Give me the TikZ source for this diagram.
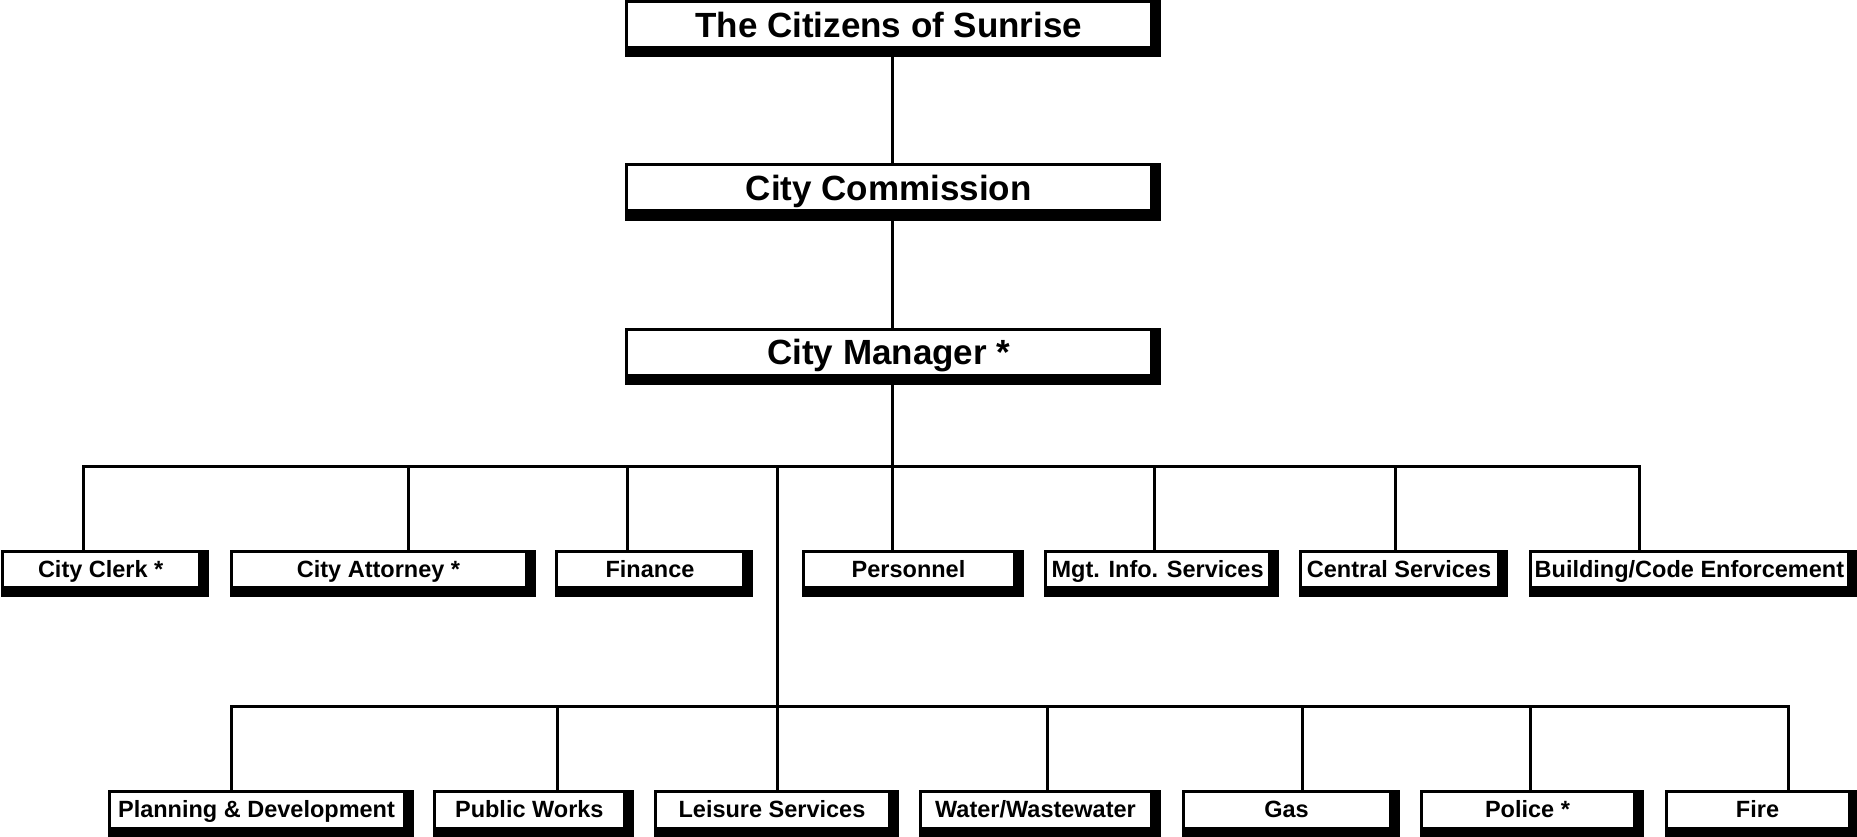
\documentclass[tikz,border=0pt]{standalone}
\usepackage{fontspec}
\setmainfont{Liberation Sans}
\usetikzlibrary{backgrounds,calc}
\begin{document}
\begin{tikzpicture}[x=1pt,y=-1pt,
  box/.style={draw=black, line width=3pt, fill=white, inner sep=0pt,
    text height=16.8pt, text depth=0pt,
    font=\bfseries\fontsize{23.5}{27}\selectfont},
  rowone/.style={box, minimum height=36pt},
  rowtwo/.style={box, minimum height=37pt},
  topbox/.style={box, minimum width=524.5pt, minimum height=46pt,
    text height=25pt, font=\bfseries\fontsize{35}{40}\selectfont},
  link/.style={line width=3pt}]
\useasboundingbox (0,0) rectangle (1857,837);

% top chain
\node[topbox] (cit) at (888.75,25) {The Citizens of Sunrise};
\node[topbox] (com) at (888.75,188) {City Commission};
\node[topbox] (mgr) at (888.75,352) {City Manager *};

% row one
\node[rowone, minimum width=196.6pt] (clerk) at (100.7,569) {City Clerk *};
\node[rowone, minimum width=295pt]   (atty)  at (378.5,569) {City Attorney *};
\node[rowone, minimum width=187pt]   (fin)   at (650,569)   {Finance};
\node[rowone, minimum width=211pt]   (pers)  at (908.5,569) {Personnel};
\node[rowone, minimum width=224pt]   (mis)   at (1157.6,569) {Mgt. Info. Services};
\node[rowone, minimum width=198pt]   (cent)  at (1399,569)  {Central Services};
\node[rowone, minimum width=318.7pt] (build) at (1689.4,569) {Building/Code Enforcement};

% row two
\node[rowtwo, minimum width=295pt]   (plan)  at (256.5,809.5)  {Planning \& Development};
\node[rowtwo, minimum width=189.4pt] (pub)   at (529.3,809.5)  {Public Works};
\node[rowtwo, minimum width=234pt]   (leis)  at (772,809.5)    {Leisure Services};
\node[rowtwo, minimum width=231pt]   (water) at (1035.5,809.5) {Water/Wastewater};
\node[rowtwo, minimum width=207pt]   (gas)   at (1286.5,809.5) {Gas};
\node[rowtwo, minimum width=213pt]   (pol)   at (1527.5,809.5) {Police *};
\node[rowtwo, minimum width=183pt]   (fire)  at (1757.5,809.5) {Fire};

% shadows
\begin{scope}[on background layer]
\foreach \n in {cit,com,mgr,clerk,atty,fin,pers,mis,cent,build,plan,pub,leis,water,gas,pol,fire}
  \fill[black] (\n.north west) rectangle ($(\n.south east)+(8,8)$);
\end{scope}

% connectors
\coordinate (spine) at (892,466);
\draw[link] (cit.south -| spine) -- (com.north -| spine);
\draw[link] (com.south -| spine) -- (mgr.north -| spine);
\draw[link] (mgr.south -| spine) -- (spine) -- (pers.north -| spine);

\coordinate (d-clerk) at (83,466);
\coordinate (d-atty)  at (408.6,466);
\coordinate (d-fin)   at (627.7,466);
\coordinate (d-trunk) at (777,466);
\coordinate (d-mis)   at (1154.7,466);
\coordinate (d-cent)  at (1395,466);
\coordinate (d-build) at (1639,466);

\draw[link] (d-clerk |- clerk.north) -- (d-clerk) -- (d-build) -- (d-build |- build.north);
\draw[link] (d-atty) -- (d-atty |- atty.north);
\draw[link] (d-fin) -- (d-fin |- fin.north);
\draw[link] (d-mis) -- (d-mis |- mis.north);
\draw[link] (d-cent) -- (d-cent |- cent.north);
\draw[link] (d-trunk) -- (d-trunk |- leis.north);

\coordinate (e-plan)  at (231,706);
\coordinate (e-pub)   at (557.8,706);
\coordinate (e-water) at (1047,706);
\coordinate (e-gas)   at (1302.7,706);
\coordinate (e-pol)   at (1530,706);
\coordinate (e-fire)  at (1788,706);

\draw[link] (e-plan |- plan.north) -- (e-plan) -- (e-fire) -- (e-fire |- fire.north);
\draw[link] (e-pub) -- (e-pub |- pub.north);
\draw[link] (e-water) -- (e-water |- water.north);
\draw[link] (e-gas) -- (e-gas |- gas.north);
\draw[link] (e-pol) -- (e-pol |- pol.north);
\end{tikzpicture}
\end{document}
